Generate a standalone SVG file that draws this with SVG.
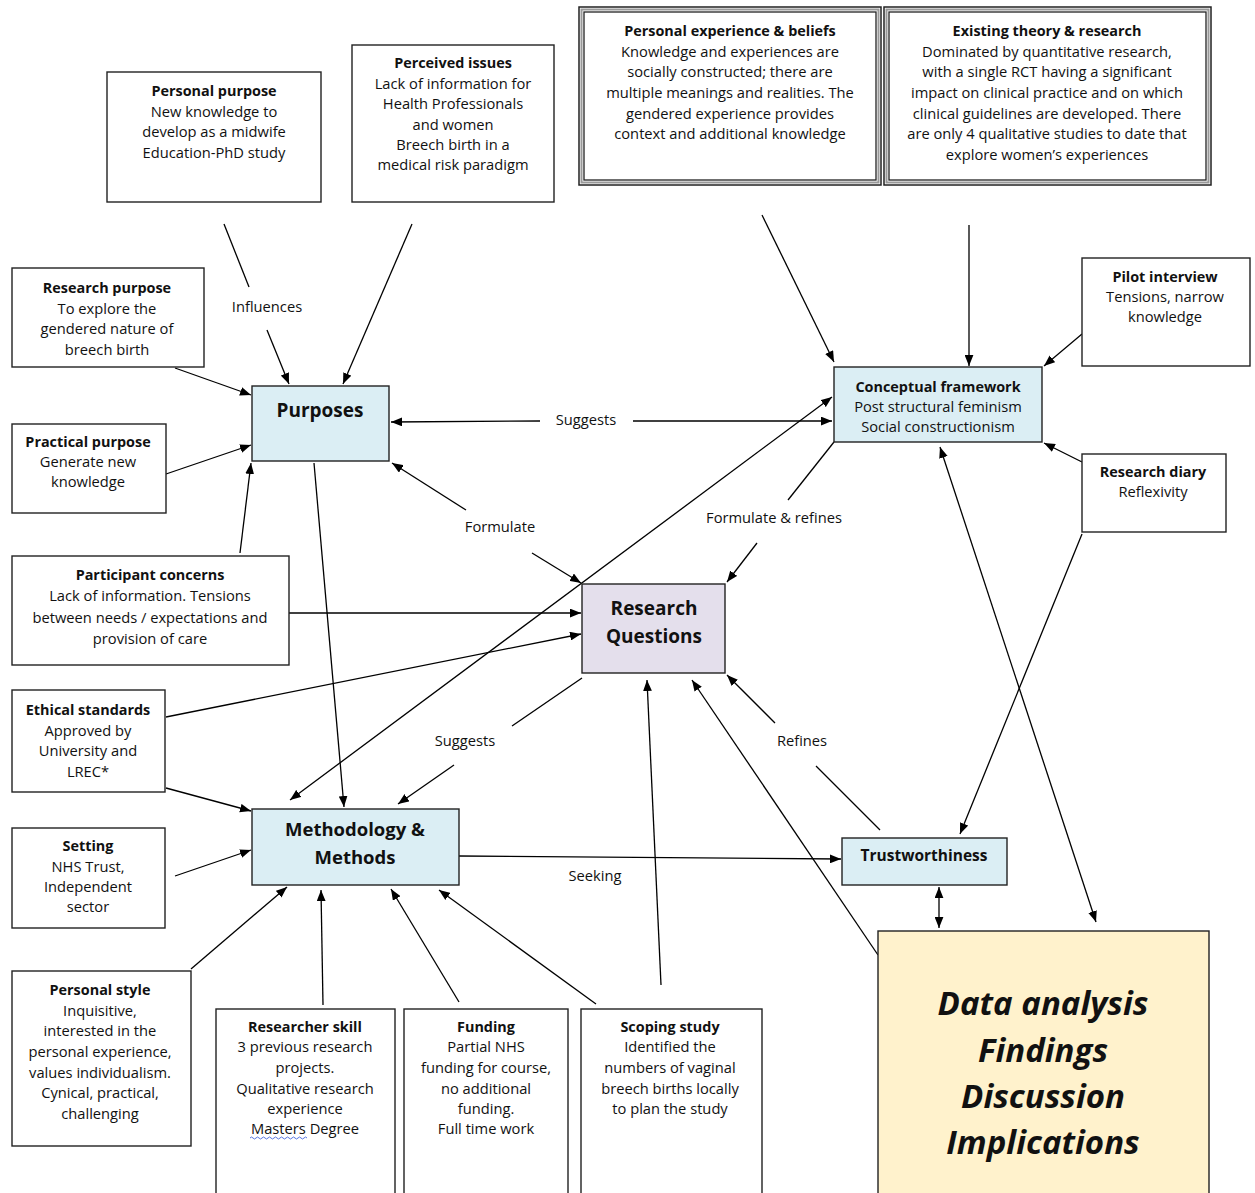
<svg xmlns="http://www.w3.org/2000/svg" width="1255" height="1193" viewBox="0 0 1255 1193">
<defs>
<marker id="ah" viewBox="0 0 10 8" refX="10" refY="4" markerWidth="11" markerHeight="9" markerUnits="userSpaceOnUse" orient="auto-start-reverse">
<path d="M0,0 L10,4 L0,8 z" fill="#000"/>
</marker>
<style>
.box{fill:#fff;stroke:#222;stroke-width:1.4}
.blue{fill:#dbeef4;stroke:#222;stroke-width:1.4}
.lav{fill:#e4dfec;stroke:#222;stroke-width:1.4}
.yel{fill:#fff2cc;stroke:#222;stroke-width:1.4}
.dbl1{fill:#fff;stroke:#222;stroke-width:1.5}
.dbl2{fill:none;stroke:#999;stroke-width:2}
.dbl3{fill:none;stroke:#222;stroke-width:1.3}
text{font-family:"Open Sans","Liberation Sans",sans-serif;font-size:14.7px;fill:#111;text-anchor:middle}
.t{font-weight:bold;font-size:14.4px}
.big{font-weight:bold;font-size:19px}
.huge{font-weight:bold;font-style:italic;font-size:33px}
.lbl{fill:#111}
.c{stroke:#000;stroke-width:1.3;fill:none}
.a{stroke:#000;stroke-width:1.3;fill:none;marker-end:url(#ah)}
.aa{stroke:#000;stroke-width:1.3;fill:none;marker-end:url(#ah);marker-start:url(#ah)}
</style>
</defs>

<g id="connectors">
<line class="c" x1="224" y1="224" x2="249" y2="287"/>
<line class="a" x1="267" y1="330" x2="289" y2="384"/>
<line class="a" x1="412" y1="224" x2="343" y2="384"/>
<line class="a" x1="175" y1="368" x2="251" y2="395"/>
<line class="a" x1="166" y1="474" x2="251" y2="445"/>
<line class="a" x1="240" y1="553" x2="251" y2="463"/>
<line class="a" x1="314" y1="463" x2="344" y2="807"/>
<line class="a" x1="540" y1="421" x2="391" y2="422"/>
<line class="a" x1="633" y1="421" x2="832" y2="421"/>
<line class="a" x1="466" y1="510" x2="392" y2="463"/>
<line class="a" x1="532" y1="553" x2="581" y2="583"/>
<line class="aa" x1="832" y1="397" x2="290" y2="800"/>
<line class="c" x1="834" y1="442" x2="788" y2="500"/>
<line class="a" x1="757" y1="543" x2="727" y2="582"/>
<line class="a" x1="289" y1="613" x2="581" y2="613"/>
<line class="a" x1="166" y1="717" x2="581" y2="634"/>
<line class="a" x1="166" y1="788" x2="251" y2="811"/>
<line class="a" x1="175" y1="876" x2="251" y2="850"/>
<line class="c" x1="582" y1="678" x2="512" y2="726"/>
<line class="a" x1="454" y1="765" x2="398" y2="804"/>
<line class="a" x1="459" y1="856" x2="841" y2="859"/>
<line class="c" x1="880" y1="830" x2="816" y2="766"/>
<line class="a" x1="775" y1="723" x2="727" y2="675"/>
<line class="a" x1="878" y1="955" x2="692" y2="680"/>
<line class="a" x1="661" y1="985" x2="647" y2="680"/>
<line class="a" x1="596" y1="1004" x2="439" y2="890"/>
<line class="a" x1="459" y1="1002" x2="391" y2="889"/>
<line class="a" x1="323" y1="1005" x2="321" y2="890"/>
<line class="a" x1="191" y1="969" x2="287" y2="887"/>
<line class="a" x1="1082" y1="534" x2="960" y2="834"/>
<line class="a" x1="1082" y1="462" x2="1044" y2="443"/>
<line class="a" x1="1082" y1="334" x2="1044" y2="366"/>
<line class="a" x1="762" y1="215" x2="834" y2="362"/>
<line class="a" x1="969" y1="225" x2="969" y2="366"/>
<line class="aa" x1="940" y1="447" x2="1096" y2="922"/>
<line class="aa" x1="939" y1="887" x2="939" y2="928"/>
<text class="lbl" x="267" y="312">Influences</text>
<text class="lbl" x="586" y="425">Suggests</text>
<text class="lbl" x="500" y="532">Formulate</text>
<text class="lbl" x="774" y="523">Formulate &amp; refines</text>
<text class="lbl" x="465" y="746">Suggests</text>
<text class="lbl" x="802" y="746">Refines</text>
<text class="lbl" x="595" y="881">Seeking</text>
</g>

<g id="personal-purpose">
<rect class="box" x="107" y="72" width="214" height="130"/>
<text class="t" x="214" y="96">Personal purpose</text>
<text x="214" y="117">New knowledge to</text>
<text x="214" y="137">develop as a midwife</text>
<text x="214" y="158">Education-PhD study</text>
</g>

<g id="perceived-issues">
<rect class="box" x="352" y="45" width="202" height="157"/>
<text class="t" x="453" y="68">Perceived issues</text>
<text x="453" y="89">Lack of information for</text>
<text x="453" y="109">Health Professionals</text>
<text x="453" y="130">and women</text>
<text x="453" y="150">Breech birth in a</text>
<text x="453" y="170">medical risk paradigm</text>
</g>

<g id="personal-experience">
<rect class="dbl1" x="579" y="7" width="302" height="178"/>
<rect class="dbl2" x="581.5" y="9.5" width="297" height="173"/>
<rect class="dbl3" x="584" y="12" width="292" height="168"/>
<text class="t" x="730" y="36">Personal experience &amp; beliefs</text>
<text x="730" y="57">Knowledge and experiences are</text>
<text x="730" y="77">socially constructed; there are</text>
<text x="730" y="98">multiple meanings and realities. The</text>
<text x="730" y="119">gendered experience provides</text>
<text x="730" y="139">context and additional knowledge</text>
</g>

<g id="existing-theory">
<rect class="dbl1" x="884" y="7" width="327" height="178"/>
<rect class="dbl2" x="886.5" y="9.5" width="322" height="173"/>
<rect class="dbl3" x="889" y="12" width="317" height="168"/>
<text class="t" x="1047" y="36">Existing theory &amp; research</text>
<text x="1047" y="57">Dominated by quantitative research,</text>
<text x="1047" y="77">with a single RCT having a significant</text>
<text x="1047" y="98">impact on clinical practice and on which</text>
<text x="1047" y="119">clinical guidelines are developed. There</text>
<text x="1047" y="139">are only 4 qualitative studies to date that</text>
<text x="1047" y="160">explore women’s experiences</text>
</g>

<g id="research-purpose">
<rect class="box" x="12" y="268" width="192" height="99"/>
<text class="t" x="107" y="293">Research purpose</text>
<text x="107" y="314">To explore the</text>
<text x="107" y="334">gendered nature of</text>
<text x="107" y="355">breech birth</text>
</g>

<g id="practical-purpose">
<rect class="box" x="12" y="424" width="154" height="89"/>
<text class="t" x="88" y="447">Practical purpose</text>
<text x="88" y="467">Generate new</text>
<text x="88" y="487">knowledge</text>
</g>

<g id="purposes">
<rect class="blue" x="252" y="386" width="137" height="75"/>
<text class="big" x="320" y="417">Purposes</text>
</g>

<g id="pilot-interview">
<rect class="box" x="1082" y="258" width="168" height="108"/>
<text class="t" x="1165" y="282">Pilot interview</text>
<text x="1165" y="302">Tensions, narrow</text>
<text x="1165" y="322">knowledge</text>
</g>

<g id="conceptual-framework">
<rect class="blue" x="834" y="367" width="208" height="75"/>
<text class="t" x="938" y="392">Conceptual framework</text>
<text x="938" y="412">Post structural feminism</text>
<text x="938" y="432">Social constructionism</text>
</g>

<g id="research-diary">
<rect class="box" x="1082" y="454" width="144" height="78"/>
<text class="t" x="1153" y="477">Research diary</text>
<text x="1153" y="497">Reflexivity</text>
</g>

<g id="participant-concerns">
<rect class="box" x="12" y="556" width="277" height="109"/>
<text class="t" x="150" y="580">Participant concerns</text>
<text x="150" y="601">Lack of information. Tensions</text>
<text x="150" y="623">between needs / expectations and</text>
<text x="150" y="644">provision of care</text>
</g>

<g id="research-questions">
<rect class="lav" x="582" y="584" width="143" height="89"/>
<text class="big" x="654" y="615">Research</text>
<text class="big" x="654" y="643">Questions</text>
</g>

<g id="ethical-standards">
<rect class="box" x="12" y="690" width="153" height="102"/>
<text class="t" x="88" y="715">Ethical standards</text>
<text x="88" y="736">Approved by</text>
<text x="88" y="756">University and</text>
<text x="88" y="777">LREC*</text>
</g>

<g id="setting">
<rect class="box" x="12" y="828" width="153" height="100"/>
<text class="t" x="88" y="851">Setting</text>
<text x="88" y="872">NHS Trust,</text>
<text x="88" y="892">Independent</text>
<text x="88" y="912">sector</text>
</g>

<g id="methodology">
<rect class="blue" x="252" y="809" width="207" height="76"/>
<text class="big" x="355" y="836" style="font-size:18.5px">Methodology &amp;</text>
<text class="big" x="355" y="864" style="font-size:18.5px">Methods</text>
</g>

<g id="trustworthiness">
<rect class="blue" x="842" y="838" width="165" height="47"/>
<text class="t" x="924" y="861" style="font-size:15.5px">Trustworthiness</text>
</g>

<g id="data-analysis">
<rect class="yel" x="878" y="931" width="331" height="270"/>
<text class="huge" x="1043" y="1015">Data analysis</text>
<text class="huge" x="1043" y="1062">Findings</text>
<text class="huge" x="1043" y="1108">Discussion</text>
<text class="huge" x="1043" y="1154">Implications</text>
</g>

<g id="personal-style">
<rect class="box" x="12" y="971" width="179" height="175"/>
<text class="t" x="100" y="995">Personal style</text>
<text x="100" y="1016">Inquisitive,</text>
<text x="100" y="1036">interested in the</text>
<text x="100" y="1057">personal experience,</text>
<text x="100" y="1078">values individualism.</text>
<text x="100" y="1098">Cynical, practical,</text>
<text x="100" y="1119">challenging</text>
</g>

<g id="researcher-skill">
<rect class="box" x="216" y="1009" width="179" height="195"/>
<text class="t" x="305" y="1032">Researcher skill</text>
<text x="305" y="1052">3 previous research</text>
<text x="305" y="1073">projects.</text>
<text x="305" y="1094">Qualitative research</text>
<text x="305" y="1114">experience</text>
<text x="305" y="1134">Masters Degree</text>
<path d="M250,1138 q1.5,-2 3,0 t3,0 t3,0 t3,0 t3,0 t3,0 t3,0 t3,0 t3,0 t3,0 t3,0 t3,0 t3,0 t3,0 t3,0 t3,0 t3,0 t3,0 t3,0" fill="none" stroke="#4466dd" stroke-width="0.9"/>
</g>

<g id="funding">
<rect class="box" x="404" y="1009" width="164" height="195"/>
<text class="t" x="486" y="1032">Funding</text>
<text x="486" y="1052">Partial NHS</text>
<text x="486" y="1073">funding for course,</text>
<text x="486" y="1094">no additional</text>
<text x="486" y="1114">funding.</text>
<text x="486" y="1134">Full time work</text>
</g>

<g id="scoping-study">
<rect class="box" x="581" y="1009" width="181" height="195"/>
<text class="t" x="670" y="1032">Scoping study</text>
<text x="670" y="1052">Identified the</text>
<text x="670" y="1073">numbers of vaginal</text>
<text x="670" y="1094">breech births locally</text>
<text x="670" y="1114">to plan the study</text>
</g>
</svg>
